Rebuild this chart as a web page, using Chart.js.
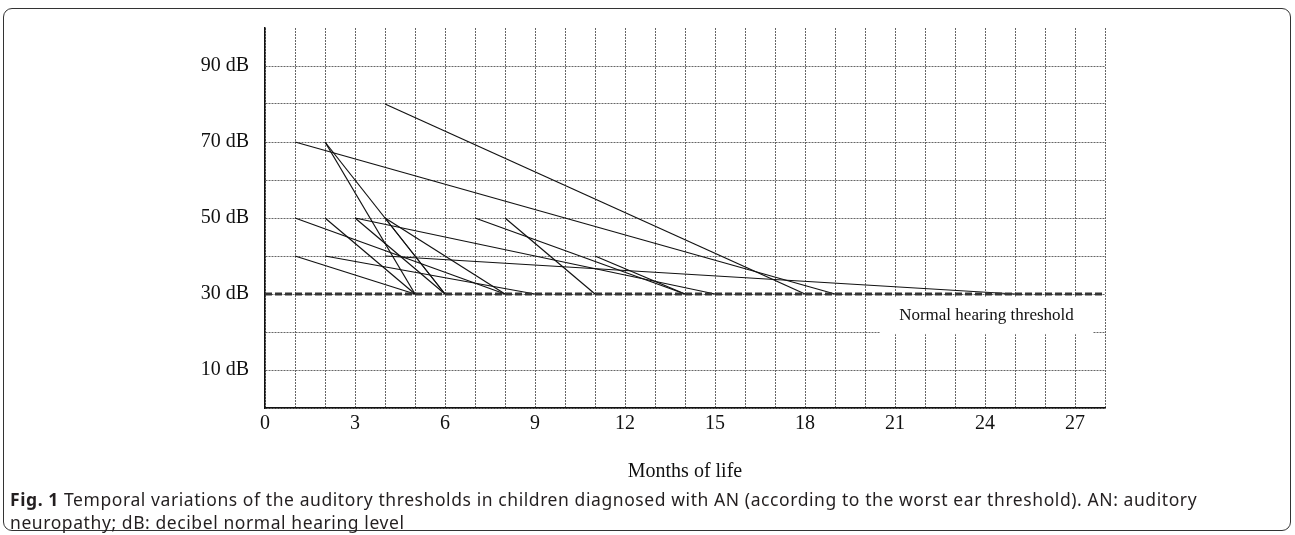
<!DOCTYPE html>
<html>
<head>
<meta charset="utf-8">
<script src="https://cdn.jsdelivr.net/npm/chart.js@4.4.0/dist/chart.umd.min.js"></script>
<style>
    html, body { margin: 0; padding: 0; background: #fff; }
    #contenedor { position: relative; width: 1295px; height: 535px; overflow: hidden; }
    #grafica { position: absolute; left: 0; top: 0; }
    #marco { position: absolute; left: 3px; top: 8px; width: 1288px; height: 523px; border: 1.5px solid #333; border-radius: 9px; box-sizing: border-box; pointer-events: none; }
    #pie { position: absolute; left: 10px; top: 488px; font-family: 'Noto Sans', sans-serif; font-size: 17.5px; letter-spacing: 0.58px; line-height: 23px; color: #231f20; white-space: nowrap; }
</style>
</head>
<body>
<div id="contenedor">
    <canvas id="grafica" width="1295" height="535"></canvas>
    <div id="marco"></div>
    <div id="pie"><b>Fig. 1</b> Temporal variations of the auditory thresholds in children diagnosed with AN (according to the worst ear threshold). AN: auditory<br>neuropathy; dB: decibel normal hearing level</div>
</div>
<script>
//Cada nino: mes y umbral del primer control, mes y umbral del ultimo
const mesInicio = [4, 1, 2, 2, 1, 2, 3, 3, 4, 4, 7, 8, 1, 2, 4, 11];
const dbInicio  = [80, 70, 70, 70, 50, 50, 50, 50, 50, 50, 50, 50, 40, 40, 40, 40];
const mesFinal  = [18, 19, 5, 6, 8, 5, 6, 15, 6, 8, 14, 11, 5, 9, 25, 14];
const dbFinal   = [30, 30, 30, 30, 30, 30, 30, 30, 30, 30, 30, 30, 30, 30, 30, 30];

//Linea del umbral normal
const umbralMeses = [0, 28];
const umbralDb = [30, 30];
const textoUmbral = 'Normal hearing threshold';
const cajaMeses = [20.5, 27.6];
const cajaDb = [29.3, 19.4];

//Etiquetas de los ejes
const mesesTicks = [0, 3, 6, 9, 12, 15, 18, 21, 24, 27];
const dbTicks = [10, 30, 50, 70, 90];

Chart.defaults.font.family = '"Liberation Serif", "Times New Roman", serif';
Chart.defaults.color = '#111';

const datosNinos = mesInicio.map((m, i) => ({
    data: [{x: m, y: dbInicio[i]}, {x: mesFinal[i], y: dbFinal[i]}],
    showLine: true,
    borderColor: '#111',
    borderWidth: 1.2,
    pointRadius: 0
}));

const datosUmbral = {
    data: umbralMeses.map((m, i) => ({x: m, y: umbralDb[i]})),
    showLine: true,
    borderColor: '#333',
    borderWidth: 3,
    borderDash: [7, 3],
    pointRadius: 0
};

//Caja blanca con el texto del umbral
const etiquetaUmbral = {
    id: 'etiquetaUmbral',
    beforeDatasetsDraw(chart) {
        const {ctx, scales: {x, y}} = chart;
        const x1 = x.getPixelForValue(cajaMeses[0]);
        const x2 = x.getPixelForValue(cajaMeses[1]);
        const y1 = y.getPixelForValue(cajaDb[0]);
        const y2 = y.getPixelForValue(cajaDb[1]);
        ctx.save();
        ctx.fillStyle = '#fff';
        ctx.fillRect(x1, y1, x2 - x1, y2 - y1);
        ctx.font = '17px "Liberation Serif", serif';
        ctx.fillStyle = '#111';
        ctx.textAlign = 'center';
        ctx.textBaseline = 'middle';
        ctx.fillText(textoUmbral, (x1 + x2) / 2, (y1 + y2) / 2);
        ctx.restore();
    }
};

const rejilla = {
    color: ctx => (ctx.tick && (ctx.tick.value === 100)) ? 'rgba(0,0,0,0)' : '#666',
    lineWidth: 1,
    drawTicks: false
};

const grafica = new Chart(document.getElementById('grafica').getContext('2d'), {
    type: 'scatter',
    data: {
        datasets: [datosUmbral, ...datosNinos]
    },
    options: {
        responsive: false,
        animation: false,
        layout: {
            padding: {top: 25, right: 190, bottom: 43, left: 0}
        },
        plugins: {
            legend: {display: false},
            tooltip: {enabled: false}
        },
        scales: {
            x: {
                type: 'linear',
                min: 0,
                max: 28,
                grid: rejilla,
                border: {display: true, color: '#111', width: 1.5, dash: [2, 1]},
                ticks: {
                    stepSize: 1,
                    autoSkip: false,
                    maxRotation: 0,
                    padding: 4,
                    font: {size: 20},
                    callback: v => mesesTicks.includes(v) ? String(v) : ''
                },
                title: {
                    display: true,
                    text: 'Months of life',
                    font: {size: 20},
                    padding: {top: 0, bottom: 8}
                },
                afterFit: s => { s.height = 84; }
            },
            y: {
                type: 'linear',
                min: 0,
                max: 100,
                grid: rejilla,
                border: {display: true, color: '#111', width: 1.5, dash: [2, 1]},
                ticks: {
                    stepSize: 10,
                    autoSkip: false,
                    padding: 16,
                    font: {size: 20},
                    callback: v => dbTicks.includes(v) ? v + ' dB' : ''
                },
                afterFit: s => { s.width = 265; }
            }
        }
    },
    plugins: [etiquetaUmbral]
});
</script>
</body>
</html>
